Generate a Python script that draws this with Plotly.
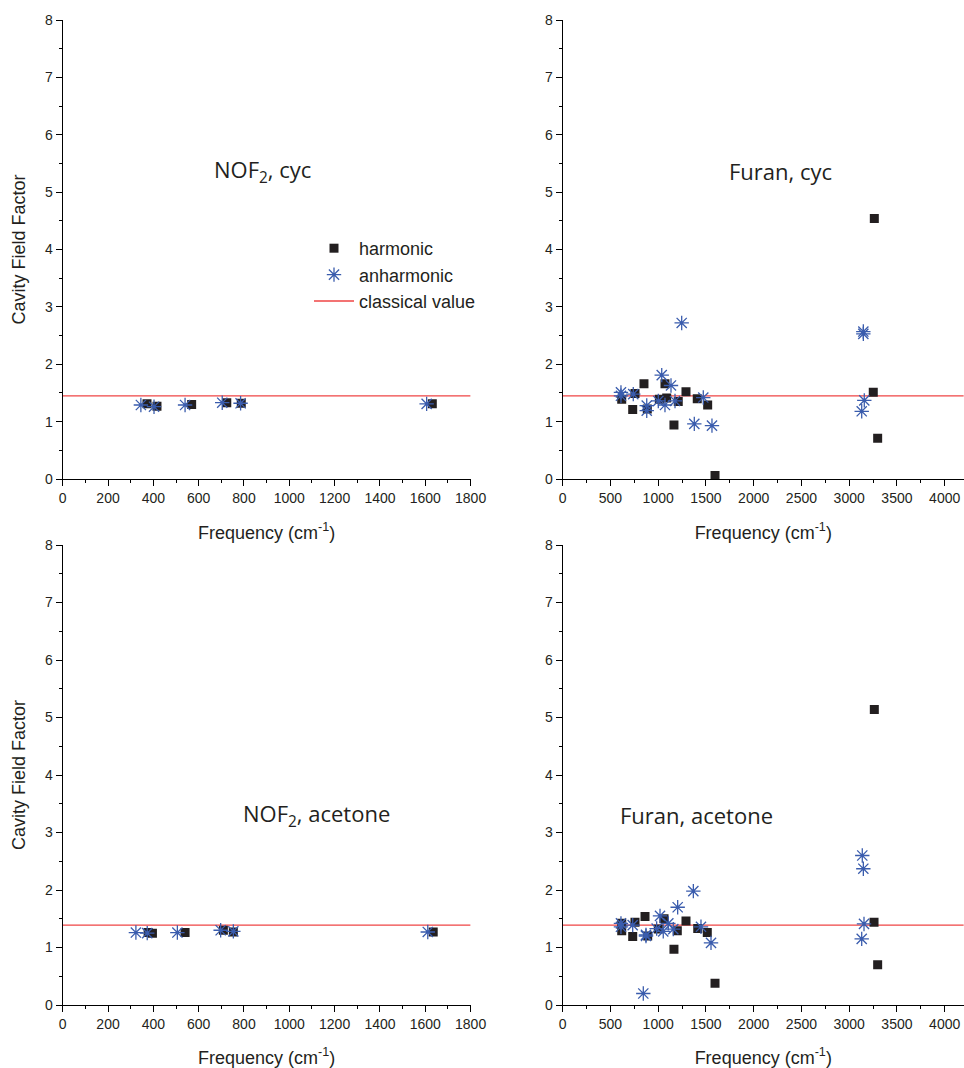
import plotly.graph_objects as go

# ---------------- data ----------------
# NOF2, cyc
nof_cyc_harm_f = [372, 416, 569, 724, 788, 1631]
nof_cyc_harm_v = [1.31, 1.27, 1.30, 1.33, 1.32, 1.31]
nof_cyc_anh_f = [345, 403, 540, 704, 785, 1606]
nof_cyc_anh_v = [1.29, 1.26, 1.29, 1.33, 1.32, 1.31]
nof_cyc_classical = 1.45

# Furan, cyc
fur_cyc_harm_f = [618, 757, 733, 851, 886, 1012, 1071, 1089, 1210, 1165, 1291, 1409, 1518, 1595, 3263, 3252, 3298]
fur_cyc_harm_v = [1.39, 1.49, 1.21, 1.66, 1.22, 1.39, 1.66, 1.41, 1.35, 0.94, 1.52, 1.40, 1.29, 0.06, 4.54, 1.51, 0.71]
fur_cyc_anh_f = [610, 610, 739, 880, 880, 1037, 1134, 1001, 1071, 1176, 1246, 1378, 1472, 1563, 3148, 3148, 3158, 3131]
fur_cyc_anh_v = [1.51, 1.45, 1.48, 1.28, 1.19, 1.81, 1.63, 1.36, 1.29, 1.36, 2.72, 0.96, 1.42, 0.93, 2.57, 2.53, 1.37, 1.18]
fur_cyc_classical = 1.45

# NOF2, acetone
nof_ace_harm_f = [377, 396, 540, 709, 753, 1635]
nof_ace_harm_v = [1.26, 1.25, 1.26, 1.30, 1.27, 1.27]
nof_ace_anh_f = [323, 373, 506, 697, 753, 1611]
nof_ace_anh_v = [1.26, 1.25, 1.26, 1.30, 1.28, 1.27]
nof_ace_classical = 1.39

# Furan, acetone
fur_ace_harm_f = [618, 618, 757, 733, 862, 890, 1001, 1061, 1200, 1165, 1291, 1414, 1514, 1595, 3263, 3260, 3298]
fur_ace_harm_v = [1.42, 1.29, 1.44, 1.19, 1.54, 1.20, 1.32, 1.50, 1.29, 0.97, 1.46, 1.33, 1.26, 0.38, 5.14, 1.44, 0.70]
fur_ace_anh_f = [610, 610, 733, 872, 872, 1019, 1106, 984, 1053, 1158, 1204, 1368, 1448, 1553, 844, 3137, 3148, 3155, 3131]
fur_ace_anh_v = [1.42, 1.36, 1.39, 1.22, 1.20, 1.55, 1.42, 1.33, 1.28, 1.32, 1.70, 1.98, 1.36, 1.08, 0.20, 2.60, 2.37, 1.41, 1.15]
fur_ace_classical = 1.39

panel_titles = ["NOF<sub>2</sub>, cyc", "Furan, cyc", "NOF<sub>2</sub>, acetone", "Furan, acetone"]
legend_names = ["harmonic", "anharmonic", "classical value"]

# ---------------- styling ----------------
W, H = 964, 1068
FONT = "Liberation Sans, Arial, sans-serif"
SQ_COLOR = "#231f20"
STAR_COLOR = "#3a5cad"
RED = "#ef4444"

def px_x(p):
    return p / W

def px_y(p):
    return 1 - p / H

panels = [
    dict(hf=nof_cyc_harm_f, hv=nof_cyc_harm_v, af=nof_cyc_anh_f, av=nof_cyc_anh_v, cl=nof_cyc_classical,
         xr=[0, 1800], dt=200, xd=[62.7, 470.6], yd=[20, 479]),
    dict(hf=fur_cyc_harm_f, hv=fur_cyc_harm_v, af=fur_cyc_anh_f, av=fur_cyc_anh_v, cl=fur_cyc_classical,
         xr=[0, 4200], dt=500, xd=[562.7, 963.8], yd=[20, 479]),
    dict(hf=nof_ace_harm_f, hv=nof_ace_harm_v, af=nof_ace_anh_f, av=nof_ace_anh_v, cl=nof_ace_classical,
         xr=[0, 1800], dt=200, xd=[62.7, 470.6], yd=[545, 1005]),
    dict(hf=fur_ace_harm_f, hv=fur_ace_harm_v, af=fur_ace_anh_f, av=fur_ace_anh_v, cl=fur_ace_classical,
         xr=[0, 4200], dt=500, xd=[562.7, 963.8], yd=[545, 1005]),
]

fig = go.Figure()
layout_axes = {}
for i, p in enumerate(panels):
    n = "" if i == 0 else str(i + 1)
    xa, ya = "x" + n, "y" + n
    first = i == 0
    fig.add_trace(go.Scatter(x=p["xr"], y=[p["cl"], p["cl"]], mode="lines",
                             line=dict(color=RED, width=1.3), name=legend_names[2],
                             showlegend=first, legendrank=3, xaxis=xa, yaxis=ya, hoverinfo="skip"))
    fig.add_trace(go.Scatter(x=p["hf"], y=p["hv"], mode="markers",
                             marker=dict(symbol="square", size=9, color=SQ_COLOR),
                             name=legend_names[0], showlegend=first, legendrank=1, xaxis=xa, yaxis=ya))
    fig.add_trace(go.Scatter(x=p["af"], y=p["av"], mode="markers",
                             marker=dict(symbol="asterisk-open", size=12, color=STAR_COLOR,
                                         line=dict(color=STAR_COLOR, width=1.3)),
                             name=legend_names[1], showlegend=first, legendrank=2, xaxis=xa, yaxis=ya))
    common = dict(showline=True, linecolor="black", linewidth=1, ticks="outside", ticklen=6,
                  tickwidth=1, tickcolor="black", showgrid=False, zeroline=False,
                  tickfont=dict(family=FONT, size=14, color=SQ_COLOR), automargin=False)
    layout_axes["xaxis" + n] = dict(common, domain=[px_x(p["xd"][0]), px_x(p["xd"][1])],
                                    range=p["xr"], dtick=p["dt"], tick0=0, anchor=ya,
                                    minor=dict(ticks="outside", ticklen=3, dtick=p["dt"] / 2,
                                               tickcolor="black", tickwidth=1),
                                    title=dict(text="Frequency (cm<sup>-1</sup>)", standoff=21,
                                               font=dict(family=FONT, size=18, color=SQ_COLOR)))
    yax = dict(common, domain=[px_y(p["yd"][1]), px_y(p["yd"][0])], range=[0, 8], dtick=1,
               anchor=xa,
               minor=dict(ticks="outside", ticklen=3, dtick=0.5, tickcolor="black", tickwidth=1))
    if i in (0, 2):
        yax["title"] = dict(text="Cavity Field Factor", standoff=14,
                            font=dict(family=FONT, size=18, color=SQ_COLOR))
    layout_axes["yaxis" + n] = yax

title_pos = [(262, 171), (780, 171), (316, 815), (696, 815)]
annotations = []
for t, (ax_, ay_) in zip(panel_titles, title_pos):
    annotations.append(dict(text=t, x=px_x(ax_), y=px_y(ay_), xref="paper", yref="paper",
                            showarrow=False, xanchor="center", yanchor="middle",
                            font=dict(family="Open Sans, Noto Sans, sans-serif", size=22, color=SQ_COLOR)))

fig.update_layout(
    width=W, height=H, margin=dict(l=0, r=0, t=0, b=0),
    paper_bgcolor="white", plot_bgcolor="white",
    font=dict(family=FONT, color=SQ_COLOR),
    showlegend=True,
    legend=dict(x=px_x(309), y=px_y(230), xanchor="left", yanchor="top",
                bgcolor="rgba(0,0,0,0)", font=dict(family=FONT, size=18, color=SQ_COLOR),
                tracegroupgap=0, itemwidth=40, traceorder="normal"),
    annotations=annotations,
    **layout_axes,
)

fig.write_html("out.html")
